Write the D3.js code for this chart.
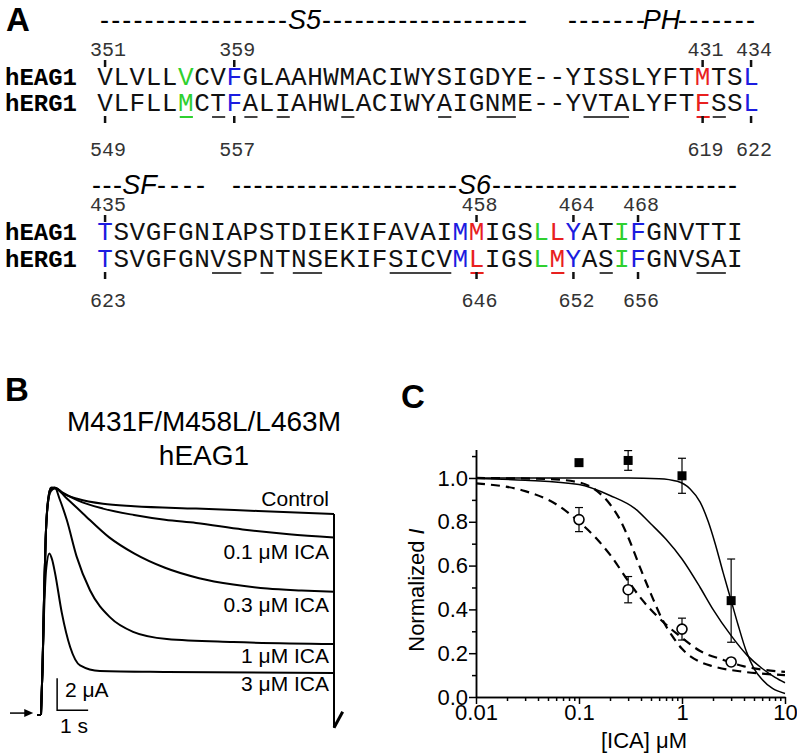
<!DOCTYPE html>
<html>
<head>
<meta charset="utf-8">
<script src="https://cdn.jsdelivr.net/npm/d3@7"></script>
<style>
	body { margin: 0; background: #fff; }
	svg { display: block; font-family: "Liberation Sans", Arial, sans-serif; }
	.mono { font-family: "Liberation Mono", "Courier New", monospace; }
</style>
</head>
<body>
<div id="fig"></div>
<script>

// ---------- panel A : alignment ----------
const eagSeq1 = "VLVLLVCVFGLAAHWMACIWYSIGDYE--YISSLYFTMTSL";
const ergSeq1 = "VLFLLMCTFALIAHWLACIWYAIGNME--YVTALYFTFSSL";
const eagSeq2 = "TSVGFGNIAPSTDIEKIFAVAIMMIGSLLYATIFGNVTTI";
const ergSeq2 = "TSVGFGNVSPNTNSEKIFSICVMLIGSLMYASIFGNVSAI";

// residue index -> colour key (same positions in both rows)
const marks1 = [[5, "g"], [8, "b"], [37, "r"], [40, "b"]];
const marks2 = [[0, "b"], [22, "b"], [23, "r"], [27, "g"], [28, "r"], [29, "b"], [32, "g"], [33, "b"]];

// underlined (non-conserved) hERG1 residues
const under1 = [5, 7, 9, 11, 15, 21, 24, 25, 30, 31, 32, 37, 38];
const under2 = [7, 8, 10, 12, 13, 18, 19, 20, 21, 23, 28, 31, 37, 38];

const numsTop1 = [[0, "351"], [8, "359"], [37, "431"], [40, "434"]];
const numsBot1 = [[0, "549"], [8, "557"], [37, "619"], [40, "622"]];
const numsTop2 = [[0, "435"], [23, "458"], [29, "464"], [33, "468"]];
const numsBot2 = [[0, "623"], [23, "646"], [29, "652"], [33, "656"]];

// ---------- panel B : current traces (t in s, I in uA) ----------
const traceNames = ["Control", "0.1 \u03BCM ICA", "0.3 \u03BCM ICA", "1 \u03BCM ICA", "3 \u03BCM ICA"];
const traceControl = [[0,0],[0.05,3],[0.1,7.5],[0.15,11],[0.22,13.2],[0.32,14.0],[0.45,14.15],[0.7,13.85],[1.2,13.5],[2,13.2],[3,13.05],[5,12.9],[7,12.75],[9.45,12.56]];
const trace01 = [[0,0],[0.05,3],[0.1,7.5],[0.15,11],[0.22,13.2],[0.32,14.1],[0.45,14.2],[0.7,13.9],[1.2,13.4],[2,12.9],[3,12.5],[4,12.2],[5,12],[6.5,11.6],[8,11.3],[9.45,11.1]];
const trace03 = [[0,0],[0.05,3],[0.1,7.5],[0.15,11],[0.22,13.3],[0.32,14.2],[0.45,14.2],[0.8,13.6],[1.35,12.6],[2.2,11.1],[3,10.1],[4,9.2],[5.1,8.55],[6.2,8.15],[7.3,7.9],[8.4,7.78],[9.45,7.7]];
const trace1 = [[0,0],[0.05,3],[0.1,7.5],[0.15,11],[0.22,13.3],[0.32,14.2],[0.45,14.2],[0.6,13.5],[0.83,12.2],[1.15,9.9],[1.58,7.8],[2.23,6.1],[2.97,5.2],[4.06,4.75],[6.2,4.56],[9.45,4.44]];
const trace3 = [[0,0],[0.05,3],[0.1,6.5],[0.17,9.2],[0.27,10.1],[0.36,9.7],[0.45,8.9],[0.67,6.4],[0.94,4.25],[1.26,3.1],[1.9,2.75],[4.06,2.69],[9.45,2.63]];
const tailPts = [[9.45, -0.8], [9.73, 0.2]];

// ---------- panel C : concentration-response ----------
const concs = [0.1, 0.3, 1, 3];
const squareMean = [1.07, 1.08, 1.01, 0.44];
const squareErr = [0.01, 0.045, 0.08, 0.19];
const circleMean = [0.81, 0.49, 0.31, 0.16];
const circleErr = [0.055, 0.06, 0.05, 0.01];

// fitted curves
const fitSteep = [[0.01,1],[0.3,1],[0.6,0.997],[0.9,0.985],[1.2,0.95],[1.5,0.89],[1.8,0.8],[2.1,0.7],[2.5,0.57],[3,0.44],[3.5,0.33],[4.2,0.21],[5,0.13],[6,0.08],[7.5,0.04],[10,0.016]];
const fitShallow = [[0.01,0.998],[0.03,0.99],[0.1,0.97],[0.2,0.92],[0.35,0.86],[0.5,0.79],[0.7,0.72],[1,0.63],[1.5,0.5],[2,0.4],[3,0.28],[4.3,0.19],[6,0.13],[8,0.09],[10,0.065]];
const fitDashA = [[0.01,0.975],[0.03,0.94],[0.06,0.88],[0.1,0.8],[0.15,0.72],[0.2,0.65],[0.3,0.53],[0.4,0.45],[0.6,0.36],[1,0.27],[1.5,0.21],[2.5,0.17],[4,0.14],[6,0.125],[10,0.115]];
const fitDashB = [[0.01,1.0],[0.05,0.995],[0.1,0.98],[0.15,0.94],[0.2,0.88],[0.25,0.81],[0.3,0.73],[0.4,0.58],[0.5,0.47],[0.65,0.35],[0.8,0.28],[1,0.22],[1.5,0.16],[2,0.14],[4,0.115],[10,0.1]];

const xMajor = [0.01, 0.1, 1, 10];
const yMajor = [0, 0.2, 0.4, 0.6, 0.8, 1.0];


const colours = { r: "#e8201e", g: "#2fd02f", b: "#1c1ce0" };

const svg = d3.select("#fig")
	.append("svg")
		.attr("width", 797)
		.attr("height", 754);

function panelLetter(txt, x, y) {
	svg.append("text")
		.attr("x", x).attr("y", y)
		.attr("font-size", 33).attr("font-weight", "bold")
		.text(txt);
}

// ============ A ============
panelLetter("A", 6, 31);

// one residue cell = 16.15 px
const cell = d3.scaleLinear().domain([0, 1]).range([97, 113.15]);
const cx = i => cell(i + 0.5);

function heading(x0, x1, x2, x3, label, y) {
	const g = svg.append("g").attr("font-size", 27);
	[[x0, x1], [x2, x3]].forEach(function(p) {
		g.append("text")
			.attr("x", p[0]).attr("y", y)
			.attr("textLength", p[1] - p[0])
			.attr("lengthAdjust", "spacing")
			.text("-".repeat(Math.round((p[1] - p[0]) / 10.7)));
	});
	g.append("text")
		.attr("x", (x1 + x2) / 2).attr("y", y)
		.attr("text-anchor", "middle")
		.attr("font-style", "italic")
		.text(label);
}

function drawBlock(b) {
	const g = svg.append("g").attr("class", "mono");
	const colourOf = new Map(b.marks);

	[["hEAG1", b.eag, b.yEag], ["hERG1", b.erg, b.yErg]].forEach(function(row) {
		g.append("text")
			.attr("x", 5).attr("y", row[2])
			.attr("font-size", 24).attr("font-weight", "bold")
			.text(row[0]);
		g.selectAll(null)
			.data(row[1].split("")).enter()
			.append("text")
				.attr("x", (d, i) => cx(i))
				.attr("y", row[2])
				.attr("text-anchor", "middle")
				.attr("font-size", 26)
				.attr("fill", (d, i) => colourOf.has(i) ? colours[colourOf.get(i)] : "#111")
				.text(d => d);
	});

	// underlines under hERG1, merged into runs
	const runs = [];
	b.under.forEach(function(i) {
		const last = runs[runs.length - 1];
		const c = colourOf.has(i) ? colours[colourOf.get(i)] : "#444";
		if (last && last.end === i - 1 && last.c === c) last.end = i;
		else runs.push({ start: i, end: i, c: c });
	});
	g.selectAll(null)
		.data(runs).enter()
		.append("line")
			.attr("x1", d => cell(d.start) + 2)
			.attr("x2", d => cell(d.end + 1) - 1)
			.attr("y1", b.yErg + 6).attr("y2", b.yErg + 6)
			.attr("stroke", d => d.c)
			.attr("stroke-width", 2);

	// residue numbers with their little tick marks
	[[b.top, b.yEag - 29, b.yEag - 25], [b.bot, b.yErg + b.botGap, b.yErg + 5]].forEach(function(set) {
		g.selectAll(null)
			.data(set[0]).enter()
			.append("text")
				.attr("x", d => cx(d[0]) + 3)
				.attr("y", set[1])
				.attr("text-anchor", "middle")
				.attr("font-size", 20)
				.attr("fill", "#333")
				.text(d => d[1]);
		g.selectAll(null)
			.data(set[0]).enter()
			.append("line")
				.attr("x1", d => cx(d[0])).attr("x2", d => cx(d[0]))
				.attr("y1", set[2]).attr("y2", set[2] + 7)
				.attr("stroke", "#111")
				.attr("stroke-width", 2.5);
	});
}

heading(100, 287, 322, 527, "S5", 29);
heading(568, 645, 678, 755, "PH", 29);
drawBlock({ eag: eagSeq1, erg: ergSeq1, marks: marks1, under: under1, top: numsTop1, bot: numsBot1, yEag: 85, yErg: 111, botGap: 45 });

heading(92, 122, 157, 205, "SF", 194);
heading(232, 457, 492, 737, "S6", 194);
drawBlock({ eag: eagSeq2, erg: ergSeq2, marks: marks2, under: under2, top: numsTop2, bot: numsBot2, yEag: 240, yErg: 267, botGap: 40 });

// ============ B ============
panelLetter("B", 5, 401);

svg.append("text")
	.attr("x", 204).attr("y", 431)
	.attr("text-anchor", "middle").attr("font-size", 28)
	.text("M431F/M458L/L463M");
svg.append("text")
	.attr("x", 204).attr("y", 465)
	.attr("text-anchor", "middle").attr("font-size", 28)
	.text("hEAG1");

const tx = d3.scaleLinear().domain([0, 9.45]).range([41, 334]);   // 1 s ~ 31 px
const ty = d3.scaleLinear().domain([0, 2]).range([715, 683]);     // 2 uA = 32 px

const traceLine = d3.line()
	.x(d => tx(d[0]))
	.y(d => ty(d[1]))
	.curve(d3.curveMonotoneX);

const traces = [traceControl, trace01, trace03, trace1, trace3];
const gB = svg.append("g")
	.attr("fill", "none").attr("stroke", "#000").attr("stroke-width", 2);

gB.selectAll("path")
	.data(traces).enter()
	.append("path")
		.attr("d", traceLine);

// holding baseline, end of pulse and tail
const plain = d3.line().x(d => tx(d[0])).y(d => ty(d[1]));
gB.append("path").attr("d", plain([[-0.13, 0], [0, 0]]));
gB.append("path").attr("d", plain([[9.45, traceControl[traceControl.length - 1][1]], [9.45, -0.8]]));
gB.append("path").attr("d", plain(tailPts)).attr("stroke-width", 3);

// zero-current arrow
gB.append("path").attr("d", plain([[-1.0, 0.12], [-0.4, 0.12]])).attr("stroke-width", 1.5);
svg.append("path")
	.attr("d", `M${tx(-0.25)},${ty(0.12)} l-9,-4 l0,8 z`)
	.attr("fill", "#000");

// scale bars 2 uA / 1 s
gB.append("path")
	.attr("d", plain([[0.52, 2.3], [0.52, 0.3], [1.52, 0.3]]))
	.attr("stroke-width", 1.5);
svg.append("text").attr("x", 65).attr("y", 697).attr("font-size", 21).text("2 \u03BCA");
svg.append("text").attr("x", 60).attr("y", 733).attr("font-size", 21).text("1 s");

const labelShift = [-8, 22, 20, 19, 18];
svg.append("g")
	.attr("font-size", 21).attr("text-anchor", "end")
	.selectAll("text")
	.data(traceNames).enter()
	.append("text")
		.attr("x", 329)
		.attr("y", (d, i) => ty(traces[i][traces[i].length - 1][1]) + labelShift[i])
		.text(d => d);

// ============ C ============
panelLetter("C", 401, 408);

const xScale = d3.scaleLog().domain([0.01, 10]).range([476, 785]);
const yScale = d3.scaleLinear().domain([0, 1.13]).range([697, 449.5]);

const xMinor = [];
xMajor.slice(0, 3).forEach(function(m) {
	for (let k = 2; k <= 9; k++) xMinor.push(m * k);
});

const gC = svg.append("g");

gC.append("g")
	.attr("transform", "translate(0,697)")
	.call(d3.axisBottom(xScale).tickValues(xMinor).tickSize(4).tickFormat("").tickSizeOuter(0));
gC.append("g")
	.attr("transform", "translate(0,697)")
	.call(d3.axisBottom(xScale).tickValues(xMajor).tickSize(7).tickPadding(0).tickSizeOuter(0)
		.tickFormat(d => String(d)));
gC.append("g")
	.attr("transform", "translate(476,0)")
	.call(d3.axisLeft(yScale).tickValues([0.1, 0.3, 0.5, 0.7, 0.9, 1.1]).tickSize(4).tickFormat("").tickSizeOuter(0));
gC.append("g")
	.attr("transform", "translate(476,0)")
	.call(d3.axisLeft(yScale).tickValues(yMajor).tickSize(7).tickPadding(1).tickSizeOuter(0)
		.tickFormat(d3.format(".1f")));

gC.selectAll(".domain, .tick line").attr("stroke", "#000").attr("stroke-width", 1.5);
gC.selectAll(".tick text")
	.attr("font-size", 22)
	.attr("font-family", "Liberation Sans, Arial, sans-serif")
	.attr("fill", "#000");

svg.append("text")
	.attr("x", 644).attr("y", 748)
	.attr("text-anchor", "middle").attr("font-size", 22)
	.text("[ICA] \u03BCM");

const yLab = svg.append("text")
	.attr("transform", "translate(424,590) rotate(-90)")
	.attr("text-anchor", "middle").attr("font-size", 22)
	.text("Normalized ");
yLab.append("tspan").attr("font-style", "italic").text("I");

const fitLine = d3.line()
	.x(d => xScale(d[0]))
	.y(d => yScale(d[1]))
	.curve(d3.curveMonotoneX);

const gFit = svg.append("g").attr("fill", "none").attr("stroke", "#000");
[fitSteep, fitShallow].forEach(function(f) {
	gFit.append("path").attr("d", fitLine(f)).attr("stroke-width", 1.5);
});
[fitDashA, fitDashB].forEach(function(f) {
	gFit.append("path").attr("d", fitLine(f))
		.attr("stroke-width", 2.2)
		.attr("stroke-dasharray", "9,6");
});

function errorBars(mean, err) {
	const g = svg.append("g").attr("stroke", "#000").attr("stroke-width", 1.2);
	concs.forEach(function(c, i) {
		const x = xScale(c);
		const y0 = yScale(mean[i] - err[i]);
		const y1 = yScale(mean[i] + err[i]);
		g.append("line").attr("x1", x).attr("x2", x).attr("y1", y0).attr("y2", y1);
		g.append("line").attr("x1", x - 4).attr("x2", x + 4).attr("y1", y0).attr("y2", y0);
		g.append("line").attr("x1", x - 4).attr("x2", x + 4).attr("y1", y1).attr("y2", y1);
	});
}
errorBars(squareMean, squareErr);
errorBars(circleMean, circleErr);

svg.append("g")
	.selectAll("rect")
	.data(concs).enter()
	.append("rect")
		.attr("x", d => xScale(d) - 4.5)
		.attr("y", (d, i) => yScale(squareMean[i]) - 4.5)
		.attr("width", 9).attr("height", 9)
		.attr("fill", "#000");

svg.append("g")
	.selectAll("circle")
	.data(concs).enter()
	.append("circle")
		.attr("cx", d => xScale(d))
		.attr("cy", (d, i) => yScale(circleMean[i]))
		.attr("r", 5)
		.attr("fill", "#fff")
		.attr("stroke", "#000")
		.attr("stroke-width", 1.6);

</script>
</body>
</html>
